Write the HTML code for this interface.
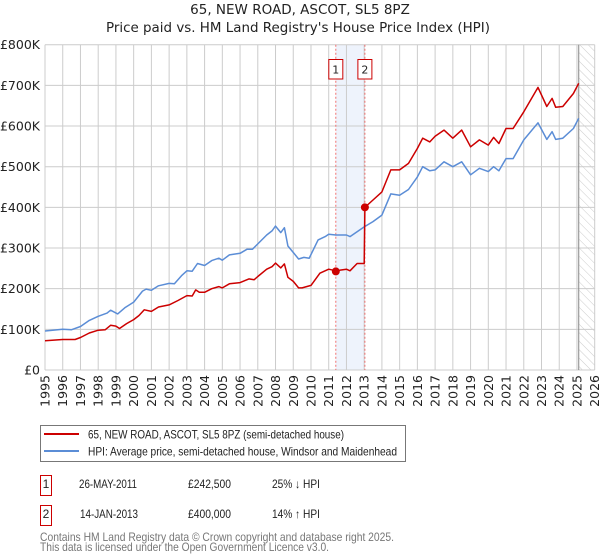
<!DOCTYPE html>
<html><head><meta charset="utf-8">
<style>
body{margin:0;background:#fff;font-family:"Liberation Sans","DejaVu Sans",sans-serif;}
svg{display:block}
text{font-family:"DejaVu Sans","Liberation Sans",sans-serif;}
.lb{font-family:"Liberation Sans","DejaVu Sans",sans-serif;}
</style></head>
<body>
<svg id="c" width="600" height="560" xmlns="http://www.w3.org/2000/svg">
<defs>
<pattern id="hatch" patternUnits="userSpaceOnUse" width="6" height="6" patternTransform="rotate(-45)">
<line x1="0" y1="0" x2="0" y2="6" stroke="#ccc" stroke-width="1"/>
</pattern>
</defs>
<text x="300" y="14" text-anchor="middle" font-size="13.5" fill="#222">65, NEW ROAD, ASCOT, SL5 8PZ</text>
<text x="298" y="32" text-anchor="middle" font-size="13.5" fill="#222" textLength="384" lengthAdjust="spacingAndGlyphs">Price paid vs. HM Land Registry's House Price Index (HPI)</text>
<g id="plot"></g>
<g>
<rect x="40.5" y="425.5" width="365" height="36" fill="#fff" stroke="#777"/>
<line x1="44" y1="434" x2="79" y2="434" stroke="#cc0000" stroke-width="2"/>
<text class="lb" x="88" y="438.5" font-size="12" fill="#222" textLength="256" lengthAdjust="spacingAndGlyphs">65, NEW ROAD, ASCOT, SL5 8PZ (semi-detached house)</text>
<line x1="44" y1="451" x2="79" y2="451" stroke="#5b8dd6" stroke-width="2"/>
<text class="lb" x="88" y="455.5" font-size="12" fill="#222" textLength="309" lengthAdjust="spacingAndGlyphs">HPI: Average price, semi-detached house, Windsor and Maidenhead</text>
</g>
<g>
<rect x="40.5" y="475.5" width="11" height="20" fill="#fff" stroke="#cc0000"/>
<text class="lb" x="46" y="488" text-anchor="middle" font-size="12" fill="#222">1</text>
<text class="lb" x="79" y="488" font-size="12" fill="#222" textLength="58" lengthAdjust="spacingAndGlyphs">26-MAY-2011</text>
<text class="lb" x="188" y="488" font-size="12" fill="#222" textLength="43" lengthAdjust="spacingAndGlyphs">£242,500</text>
<text class="lb" x="272" y="488" font-size="12" fill="#222" textLength="48" lengthAdjust="spacingAndGlyphs">25% ↓ HPI</text>
<rect x="40.5" y="505.5" width="11" height="20" fill="#fff" stroke="#cc0000"/>
<text class="lb" x="46" y="518" text-anchor="middle" font-size="12" fill="#222">2</text>
<text class="lb" x="80" y="518" font-size="12" fill="#222" textLength="58" lengthAdjust="spacingAndGlyphs">14-JAN-2013</text>
<text class="lb" x="188" y="518" font-size="12" fill="#222" textLength="43" lengthAdjust="spacingAndGlyphs">£400,000</text>
<text class="lb" x="272" y="518" font-size="12" fill="#222" textLength="48" lengthAdjust="spacingAndGlyphs">14% ↑ HPI</text>
</g>
<text class="lb" x="40" y="541" font-size="12" fill="#777" textLength="354" lengthAdjust="spacingAndGlyphs">Contains HM Land Registry data © Crown copyright and database right 2025.</text>
<text class="lb" x="40" y="551" font-size="12" fill="#777" textLength="289" lengthAdjust="spacingAndGlyphs">This data is licensed under the Open Government Licence v3.0.</text>
</svg>
<script>
const hpiYears=[1995,1996,1996.5,1997,1997.5,1998,1998.5,1998.7,1999.1,1999.5,2000,2000.5,2000.7,2001,2001.4,2002,2002.3,2002.7,2003,2003.3,2003.6,2004,2004.4,2004.8,2005,2005.4,2006,2006.4,2006.7,2007,2007.5,2007.8,2008,2008.3,2008.5,2008.7,2009,2009.3,2009.6,2009.9,2010.4,2010.8,2011,2011.4,2012,2012.2,2012.6,2013,2013.5,2014,2014.5,2015,2015.5,2016,2016.3,2016.7,2017,2017.5,2018,2018.5,2019,2019.5,2020,2020.3,2020.6,2021,2021.4,2022,2022.8,2023.3,2023.6,2023.8,2024.2,2024.8,2025.1];
const hpiValues=[96,100,99,107,122,132,140,147,138,153,167,194,199,196,207,213,212,232,244,243,262,257,269,275,270,283,287,297,297,310,332,342,354,338,350,305,289,273,277,275,320,328,334,332,332,328,340,352,365,381,433,430,444,475,500,490,492,512,500,512,480,496,488,500,490,520,520,566,608,567,586,567,570,594,619];
const priceYears=[1995,1996,1996.7,1997,1997.5,1998,1998.4,1998.7,1999,1999.2,1999.6,2000,2000.3,2000.6,2001,2001.4,2002,2002.5,2003,2003.3,2003.5,2003.7,2004,2004.4,2004.8,2005,2005.4,2006,2006.5,2006.8,2007,2007.5,2007.8,2008,2008.3,2008.5,2008.7,2009,2009.3,2009.5,2010,2010.5,2011,2011.4,2012,2012.2,2012.6,2013,2013.04,2013.5,2014,2014.5,2015,2015.5,2016,2016.3,2016.7,2017,2017.5,2018,2018.5,2019,2019.5,2020,2020.3,2020.6,2021,2021.4,2022,2022.8,2023.3,2023.6,2023.8,2024.2,2024.8,2025.1];
const priceValues=[72,75,75,80,91,98,99,110,108,102,114,124,134,148,144,155,160,171,183,182,197,191,191,200,205,202,212,215,224,222,230,248,254,263,251,261,228,218,202,202,208,238,248,244,248,244,262,262,400,418,438,492,492,508,545,570,561,575,590,570,590,549,566,553,572,557,594,594,635,695,648,668,646,648,680,705];
const saleYears=[2011.4,2013.04];
const saleValues=[242.5,400];
const saleLabels=["1","2"];
const yTicks=[0,100,200,300,400,500,600,700,800];
const yTickLabels=["£0","£100K","£200K","£300K","£400K","£500K","£600K","£700K","£800K"];
const xTicks=[1995,1996,1997,1998,1999,2000,2001,2002,2003,2004,2005,2006,2007,2008,2009,2010,2011,2012,2013,2014,2015,2016,2017,2018,2019,2020,2021,2022,2023,2024,2025,2026];

const X0=45,X1=594.7,Y0=370,Y1=44.7;
const xs=y=>X0+(y-1995)/(2026-1995)*(X1-X0);
const ys=v=>Y0-(v/800)*(Y0-Y1);
const NS="http://www.w3.org/2000/svg";
const g=document.getElementById('plot');
function mk(t,a){const e=document.createElementNS(NS,t);for(const k in a)e.setAttribute(k,a[k]);g.appendChild(e);return e;}

let sh=mk('rect',{x:xs(saleYears[0]),y:Y1,width:xs(saleYears[1])-xs(saleYears[0]),height:Y0-Y1,fill:'#eef3fc'});


let ht=mk('rect',{x:xs(2025.1),y:Y1,width:X1-xs(2025.1),height:Y0-Y1,fill:'url(#hatch)'});


xTicks.forEach(t=>{
  let l=mk('line',{x1:xs(t),x2:xs(t),y1:Y1,y2:Y0,stroke:'#ccc','stroke-width':1});
  
  
  let tx=mk('text',{x:0,y:0,'font-size':12.5,fill:'#222','text-anchor':'end',transform:`translate(${xs(t)+4.5},375) rotate(-90)`});
  tx.textContent=t;
  
  
});
yTicks.forEach((t,i)=>{
  let l=mk('line',{x1:X0,x2:X1,y1:ys(t),y2:ys(t),stroke:'#ccc','stroke-width':1});
  
  
  let tx=mk('text',{x:40,y:ys(t)+4.5,'font-size':12.5,fill:'#222','text-anchor':'end'});
  tx.textContent=yTickLabels[i];
  
  
});
let nl=mk('line',{x1:xs(2025.1),x2:xs(2025.1),y1:Y1,y2:Y0,stroke:'#888','stroke-width':1});


saleYears.forEach((s,i)=>{
  let l=mk('line',{x1:xs(s),x2:xs(s),y1:Y1,y2:Y0,stroke:'#f07070','stroke-width':1,'stroke-dasharray':'2,2'});
  
  
  let b=mk('rect',{x:xs(s)-7,y:59.5,width:14,height:19.5,fill:'#fff',stroke:'#cc0000'});
  
  
  let t=mk('text',{x:xs(s),y:73.5,'font-size':11,fill:'#222','text-anchor':'middle'});
  t.textContent=saleLabels[i];
  
  
});
function pts(a,b){return a.map((y,i)=>xs(y).toFixed(1)+','+ys(b[i]).toFixed(1)).join(' ');}
let hp=mk('polyline',{points:pts(hpiYears,hpiValues),fill:'none',stroke:'#5b8dd6','stroke-width':1.5,'stroke-linejoin':'round'});


let pp=mk('polyline',{points:pts(priceYears,priceValues),fill:'none',stroke:'#cc0000','stroke-width':1.5,'stroke-linejoin':'round'});


saleYears.forEach((s,i)=>{
  let c=mk('circle',{cx:xs(s),cy:ys(saleValues[i]),r:4,fill:'#cc0000'});
  
  
});
</script>
</body></html>
